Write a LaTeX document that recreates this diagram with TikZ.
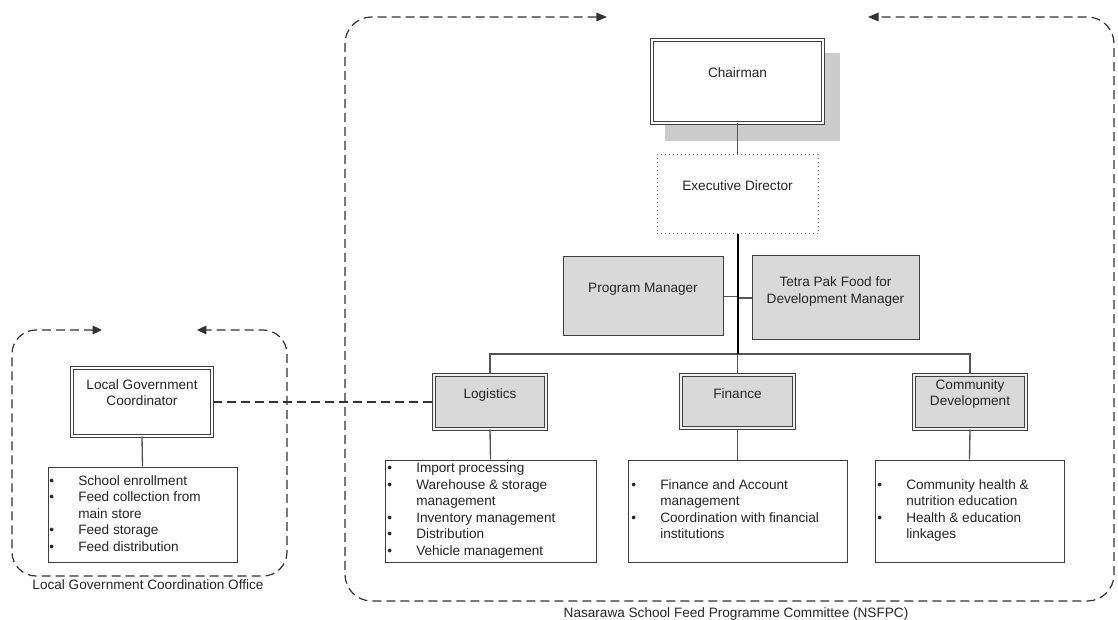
\documentclass[tikz,border=0pt]{standalone}
\usepackage{fontspec}
\setmainfont{Liberation Sans}
\usetikzlibrary{arrows.meta,calc}
\definecolor{boxgray}{HTML}{D9D9D9}
\definecolor{shadowgray}{HTML}{CCCCCC}
\definecolor{linegray}{HTML}{404040}
\definecolor{conngray}{HTML}{555555}
\definecolor{txtgray}{HTML}{262626}
\definecolor{dashgray}{HTML}{333333}
\newcommand\bl{\makebox[21.75pt][l]{\textbullet}}
\begin{document}
\begin{tikzpicture}[x=0.75pt,y=-0.75pt,
  every node/.style={font=\fontsize{10.2}{12.45}\selectfont, text=txtgray},
  plainbox/.style={draw=linegray, line width=0.75pt, fill=white, rectangle, inner sep=0pt},
  dblbox/.style={draw=linegray, line width=0.75pt, double=white, double distance=1.5pt, fill=white, rectangle, inner sep=0pt},
  dblgray/.style={draw=linegray, line width=0.75pt, double=gray!12, double distance=1.5pt, fill=boxgray, rectangle, inner sep=0pt},
  graybox/.style={draw=linegray, line width=0.75pt, fill=boxgray, rectangle, inner sep=0pt},
  dotbox/.style={draw=gray, line width=0.75pt, dash pattern=on 0.75pt off 2.25pt, fill=white, rectangle, inner sep=0pt},
  txt/.style={inner sep=0pt, anchor=base},
  btxt/.style={inner sep=0pt, anchor=base west},
  conn/.style={draw=conngray, line width=1pt},
  frame/.style={draw=dashgray, line width=0.9pt, dash pattern=on 6.75pt off 3.75pt},
  tipboth/.style={{Triangle[length=8pt,width=6.5pt]}-{Triangle[length=8pt,width=6.5pt]}}
]
\useasboundingbox (0,0) rectangle (1118,620);

% frames
\draw[frame, rounded corners=20pt, tipboth] (607,17) -- (345,17) -- (345,601) -- (1114,601) -- (1114,17) -- (868,17);
\draw[frame, rounded corners=18pt, {Triangle[length=7pt,width=6.5pt]}-{Triangle[length=7pt,width=6.5pt]}] (102,330) -- (12,330) -- (12,576) -- (287,576) -- (287,330) -- (197,330);

% shadow of chairman
\fill[shadowgray] (665,53) rectangle (840,141);

% boxes
\node[dblbox, minimum width=128.25pt, minimum height=62.25pt] (chair) at (737.5,81.5) {};
\node[dotbox, minimum width=120.75pt, minimum height=59.25pt] (ED) at (737.5,194.5) {};
\node[graybox, minimum width=120pt, minimum height=59.25pt] (PM) at (643,296.5) {};
\node[graybox, minimum width=125.25pt, minimum height=63pt] (TP) at (835.5,298) {};
\node[dblgray, minimum width=84pt, minimum height=40.5pt] (Log) at (490,402) {};
\node[dblgray, minimum width=84.75pt, minimum height=39.75pt] (Fin) at (737.5,401.5) {};
\node[dblgray, minimum width=84pt, minimum height=40.5pt] (Com) at (970,402) {};
\node[dblbox, minimum width=105pt, minimum height=51pt] (LGC) at (142,402) {};
\node[plainbox, minimum width=141.75pt, minimum height=71.25pt] (LGCB) at (142.5,514.5) {};
\node[plainbox, minimum width=158.25pt, minimum height=76.5pt] (LogB) at (490.5,511) {};
\node[plainbox, minimum width=164.25pt, minimum height=76.5pt] (FinB) at (737.5,511) {};
\node[plainbox, minimum width=141.75pt, minimum height=76.5pt] (ComB) at (969.5,511) {};

% box texts
\node[txt] (chairT) at (737.5,78) {Chairman};
\node[txt] (EDT) at (737.5,190.5) {Executive Director};
\node[txt] (PMT) at (643,292.7) {Program Manager};
\node[txt] (TPT) at (835.5,286.7) {\begin{tabular}[t]{@{}c@{}}Tetra Pak Food for\\Development Manager\end{tabular}};
\node[txt] (LogT) at (490,398) {Logistics};
\node[txt] (FinT) at (737.5,398) {Finance};
\node[txt] (ComT) at (970,389) {\begin{tabular}[t]{@{}c@{}}Community\\Development\end{tabular}};
\node[txt] (LGCT) at (142,389.3) {\begin{tabular}[t]{@{}c@{}}Local Government\\Coordinator\end{tabular}};

% bullet texts
\node[btxt] (LGCBT) at (49,485) {\begin{tabular}[t]{@{}l@{}l@{}}\bl&School enrollment\\\bl&Feed collection from\\&main store\\\bl&Feed storage\\\bl&Feed distribution\end{tabular}};
\node[btxt] (LogBT) at (387,472.5) {\begin{tabular}[t]{@{}l@{}l@{}}\bl&Import processing\\\bl&Warehouse \& storage\\&management\\\bl&Inventory management\\\bl&Distribution\\\bl&Vehicle management\end{tabular}};
\node[btxt] (FinBT) at (631,489) {\begin{tabular}[t]{@{}l@{}l@{}}\bl&Finance and Account\\&management\\\bl&Coordination with financial\\&institutions\end{tabular}};
\node[btxt] (ComBT) at (877,489) {\begin{tabular}[t]{@{}l@{}l@{}}\bl&Community health \&\\&nutrition education\\\bl&Health \& education\\&linkages\end{tabular}};

% frame labels
\node[txt] (lgcoLbl) at (148,589) {Local Government Coordination Office};
\node[txt] (nsfpcLbl) at (736,617.5) {Nasarawa School Feed Programme Committee (NSFPC)};

% connectors
\coordinate (hub) at (737.5,354);
\draw[conn] (chair.south) -- (ED.north);
\draw[conn] (PM.east) -- (PM.east -| hub);
\draw[conn] (TP.west) -- (TP.west -| hub);
\draw[conn] (Log.north) -- (Log.north |- hub) -- (Com.north |- hub) -- (Com.north);
\draw[conn] (hub) -- (Fin.north);
\draw[line width=1.5pt, black] (ED.south) -- (hub);
\draw[conn] (Log.south) -- (LogB.north);
\draw[conn] (Fin.south) -- (FinB.north);
\draw[conn] (Com.south) -- (ComB.north);
\draw[conn] (LGC.south) -- (LGCB.north);
\draw[frame] (LGC.east) -- (Log.west);
\end{tikzpicture}
\end{document}
